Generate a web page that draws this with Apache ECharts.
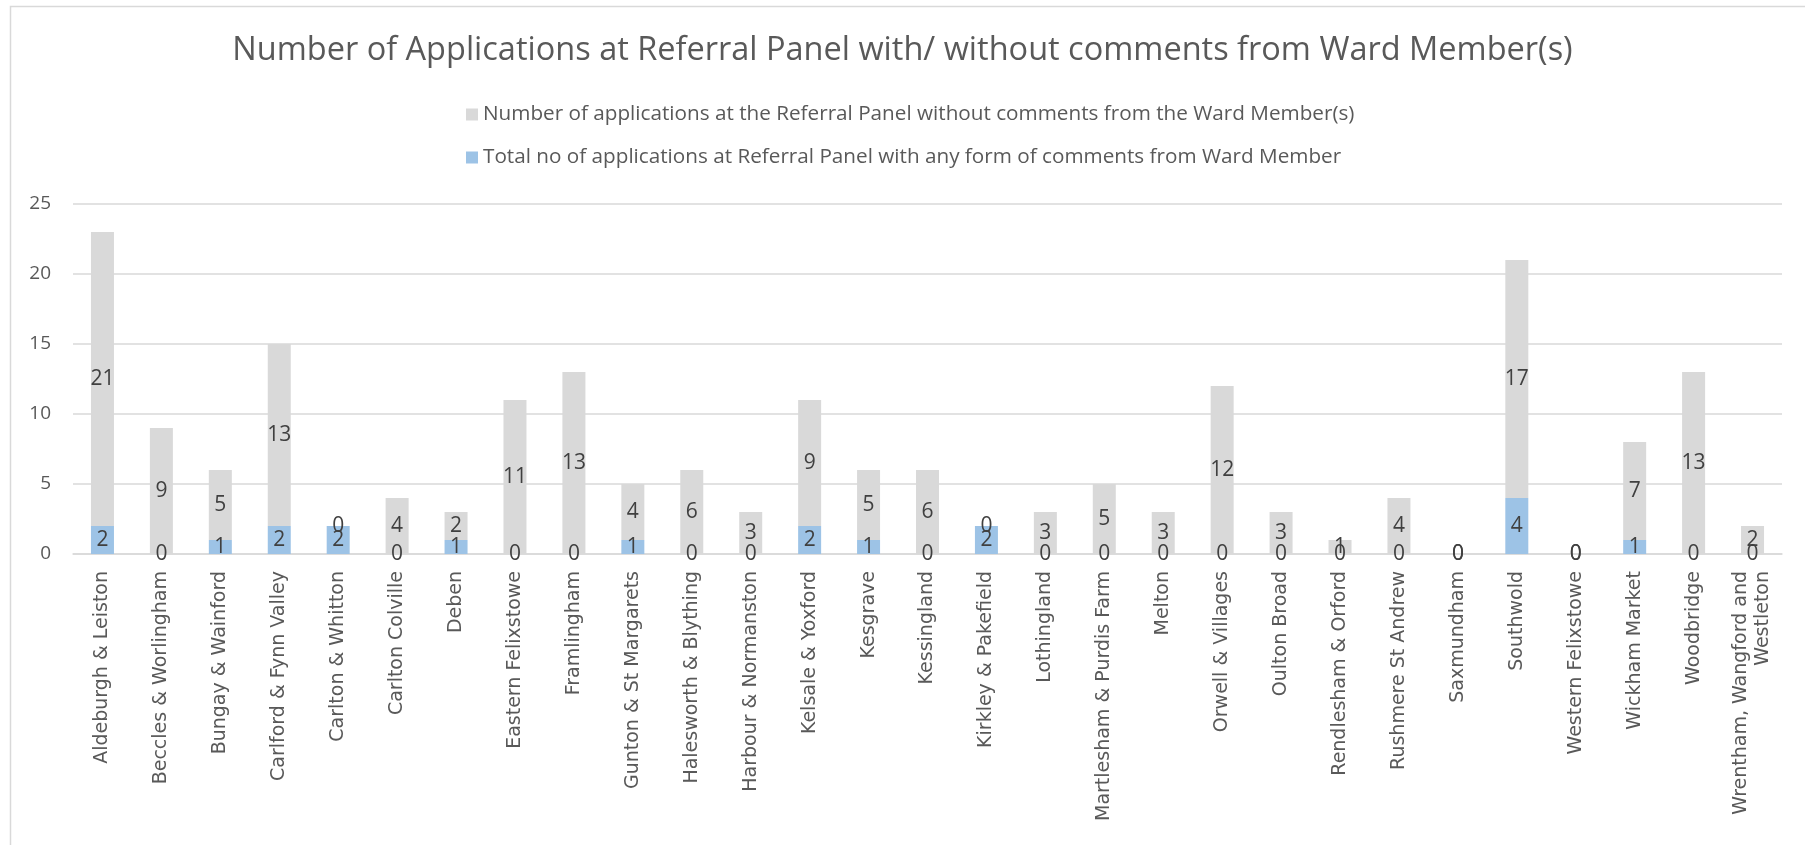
<!DOCTYPE html>
<html>
<head>
<meta charset="utf-8">
<script src="https://cdn.jsdelivr.net/npm/echarts@6/dist/echarts.min.js"></script>
<style>
html,body{margin:0;padding:0;background:#fff;}
#c{width:1805px;height:845px;}
</style>
</head>
<body>
<div id="c"></div>
<script>
const titleText = 'Number of Applications at Referral Panel with/ without comments from Ward Member(s)';
const categories = [
  'Aldeburgh & Leiston', 'Beccles & Worlingham', 'Bungay & Wainford', 'Carlford & Fynn Valley',
  'Carlton & Whitton', 'Carlton Colville', 'Deben', 'Eastern Felixstowe', 'Framlingham',
  'Gunton & St Margarets', 'Halesworth & Blything', 'Harbour & Normanston', 'Kelsale & Yoxford',
  'Kesgrave', 'Kessingland', 'Kirkley & Pakefield', 'Lothingland', 'Martlesham & Purdis Farm',
  'Melton', 'Orwell & Villages', 'Oulton Broad', 'Rendlesham & Orford', 'Rushmere St Andrew',
  'Saxmundham', 'Southwold', 'Western Felixstowe', 'Wickham Market', 'Woodbridge',
  'Wrentham, Wangford and\nWestleton'
];
const withoutName = 'Number of applications at the Referral Panel without comments from the Ward Member(s)';
const withName = 'Total no of applications at Referral Panel with any form of comments from Ward Member';
const withComments = [2,0,1,2,2,0,1,0,0,1,0,0,2,1,0,2,0,0,0,0,0,0,0,0,4,0,1,0,0];
const withoutComments = [21,9,5,13,0,4,2,11,13,4,6,3,9,5,6,0,3,5,3,12,3,1,4,0,17,0,7,13,2];
const yTicks = { min: 0, max: 25, interval: 5 };

const chart = echarts.init(document.getElementById('c'), null, {renderer: 'canvas'});
const labelStyle = { show: true, position: 'inside', color: '#404040', fontSize: 21, fontFamily: 'Open Sans' };
chart.setOption({
  animation: false,
  backgroundColor: '#ffffff',
  graphic: [{
    type: 'rect', left: 8, top: 4, silent: true, z: -1,
    shape: { width: 1900, height: 1000 },
    style: { fill: 'none', stroke: '#d9d9d9', lineWidth: 1.5 }
  }],
  title: {
    text: titleText, left: 'center', top: 29,
    textStyle: { color: '#595959', fontSize: 32.5, fontWeight: 'normal', fontFamily: 'Open Sans' }
  },
  legend: {
    orient: 'vertical', left: 461, top: 99, itemGap: 22,
    itemWidth: 12, itemHeight: 12, icon: 'rect',
    data: [withoutName, withName],
    textStyle: { color: '#595959', fontSize: 20.7, fontFamily: 'Open Sans' }
  },
  grid: { left: 73, right: 23, top: 204, bottom: 291, containLabel: false },
  xAxis: {
    type: 'category', data: categories, boundaryGap: true,
    axisLine: { lineStyle: { color: '#d9d9d9', width: 1.5 } },
    axisTick: { show: false },
    axisLabel: { interval: 0, rotate: 90, margin: 17, color: '#595959', fontSize: 19, fontFamily: 'DejaVu Sans', lineHeight: 22 }
  },
  yAxis: {
    type: 'value', min: yTicks.min, max: yTicks.max, interval: yTicks.interval,
    axisLine: { show: false }, axisTick: { show: false },
    splitLine: { lineStyle: { color: '#d9d9d9', width: 1.5 } },
    axisLabel: { color: '#595959', fontSize: 19, fontFamily: 'Open Sans', margin: 22 }
  },
  series: [
    { name: withName, type: 'bar', stack: 'total', data: withComments, barWidth: 23,
      itemStyle: { color: '#9dc3e6' }, label: labelStyle },
    { name: withoutName, type: 'bar', stack: 'total', data: withoutComments, barWidth: 23,
      itemStyle: { color: '#d9d9d9' }, label: labelStyle }
  ]
});
</script>
</body>
</html>
